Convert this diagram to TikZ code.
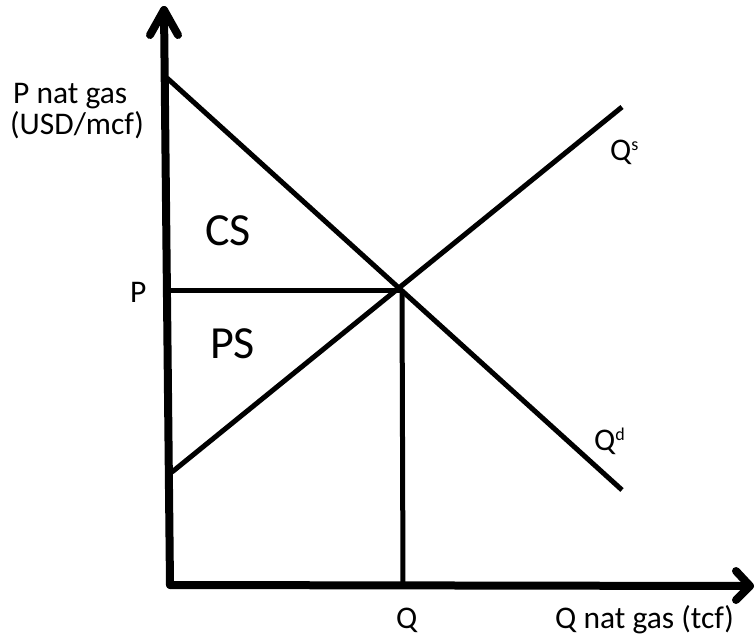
\documentclass[tikz,border=0pt]{standalone}
\usepackage{fontspec}
\setmainfont{Carlito}
\begin{document}
\begin{tikzpicture}[x=1pt,y=-1pt,
  axis/.style={line width=8pt, line cap=round, line join=round},
  curve/.style={line width=5pt},
  lbl/.style={font=\fontsize{31.5}{36}\selectfont, inner sep=0pt, anchor=base west},
  big/.style={font=\fontsize{46}{54}\selectfont, inner sep=0pt, anchor=base west}]
\useasboundingbox (0,0) rectangle (756,641);
% coordinates
\coordinate (O) at (170,585);
\coordinate (Ytop) at (164,10);
\coordinate (Xend) at (750,586);
\coordinate (Dtop) at (167,78);
\coordinate (Dend) at (622,490);
\coordinate (Sbot) at (172,472);
\coordinate (Send) at (622,107);
\coordinate (Pax) at (168,290);
\coordinate (E) at (402,290);
\coordinate (Qax) at (403,585);
% curves
\draw[curve] (Dtop) -- (Dend);
\draw[curve] (Sbot) -- (Send);
\draw[curve] (Pax) -- (E);
\draw[curve] (E) -- (Qax);
% axes
\draw[axis] (O) -- (Ytop);
\draw[axis] (150,35) -- (Ytop) -- (178,35);
\draw[axis] (O) -- (Xend);
\draw[axis] (736,571) -- (Xend) -- (736,600);
% labels
\node[lbl] (ylab1) at (13,103) {P nat gas};
\node[lbl] (ylab2) at (10,134) {(USD/mcf)};
\node[lbl] (plab) at (130,302) {P};
\node[big] (cs) at (205,245) {CS};
\node[big] (ps) at (210,358) {PS};
\node[lbl] (qs) at (610,160) {Q\raisebox{10pt}{\fontsize{18}{20}\selectfont s}};
\node[lbl] (qd) at (594,450) {Q\raisebox{10pt}{\fontsize{18}{20}\selectfont d}};
\node[lbl] (qlab) at (396,628) {Q};
\node[lbl] (xlab) at (555,628) {Q nat gas (tcf)};
\end{tikzpicture}
\end{document}
